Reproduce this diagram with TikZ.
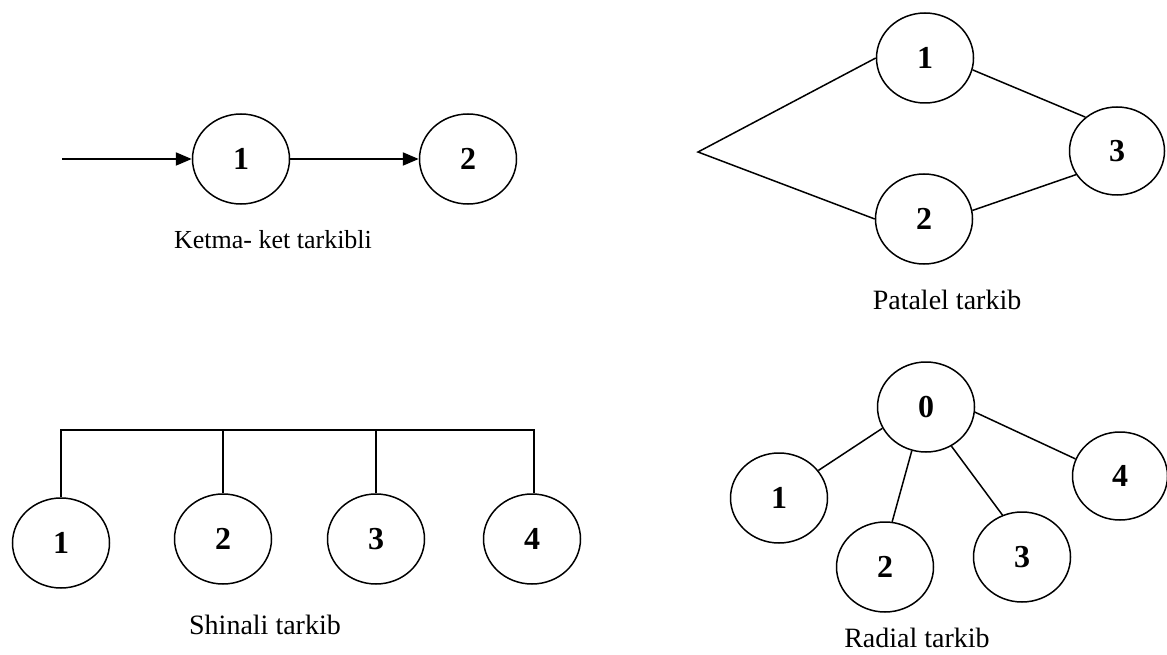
\documentclass[tikz,border=0pt]{standalone}
\usepackage{fontspec}
\setmainfont{Liberation Serif}
\usetikzlibrary{shapes.geometric,arrows.meta}
\tikzset{
  circ/.style={draw=black, ellipse, line width=1.5pt, inner sep=0pt,
    minimum width=97pt, minimum height=90pt,
    font=\fontsize{32}{32}\selectfont\bfseries},
  lbl/.style={font=\fontsize{28}{30}\selectfont, inner sep=0pt},
  conn/.style={draw=black, line width=1.5pt},
  arr/.style={draw=black, line width=2pt, -{Triangle[length=16pt,width=13pt]}}
}
\begin{document}
\begin{tikzpicture}[x=1pt,y=-1pt]
\useasboundingbox (0,0) rectangle (1167,655);
% Ketma-ket
\coordinate (s0) at (62,159);
\node[circ] (k1) at (241,159) {1};
\node[circ] (k2) at (468,159) {2};
\draw[arr] (s0) -- (k1.west);
\draw[arr] (k1.east) -- (k2.west);
\node[lbl, font=\fontsize{26}{28}\selectfont] (kl) at (273,240) {Ketma- ket tarkibli};
% Parallel
\coordinate (v) at (698,152);
\node[circ] (p1) at (925,58) {1};
\node[circ] (p2) at (924,219) {2};
\node[circ, minimum width=95pt, minimum height=88pt] (p3) at (1117,151) {3};
\draw[conn] (p1.west) -- (v) -- (p2.west);
\draw[conn] (p1.-14) -- (p3.133);
\draw[conn] (p2.10) -- (p3.210);
\node[lbl] (pl) at (947,300) {Patalel tarkib};
% Shinali
\node[circ] (b1) at (61,543) {1};
\node[circ] (b2) at (223,539) {2};
\node[circ] (b3) at (376,539) {3};
\node[circ] (b4) at (532,539) {4};
\coordinate (t1) at (61,430);
\coordinate (t4) at (534,430);
\draw[conn] (b1.north) -- (t1) -- (t4) -- (b4.north -| t4);
\draw[conn] (b2.north) -- (b2.north |- t1);
\draw[conn] (b3.north) -- (b3.north |- t1);
\node[lbl] (bl) at (265,625) {Shinali tarkib};
% Radial
\node[circ] (r0) at (926,407) {0};
\node[circ] (r1) at (779,498) {1};
\node[circ] (r2) at (885,567) {2};
\node[circ] (r3) at (1022,557) {3};
\node[circ, minimum width=95pt, minimum height=88pt] (r4) at (1120,476) {4};
\draw[conn] (r0.206) -- (r1.35);
\draw[conn] (r0.252) -- (r2.81);
\draw[conn] (r0.303) -- (r3.115);
\draw[conn] (r0.-6) -- (r4.159);
\node[lbl] (rl) at (917,638) {Radial tarkib};
\end{tikzpicture}
\end{document}
